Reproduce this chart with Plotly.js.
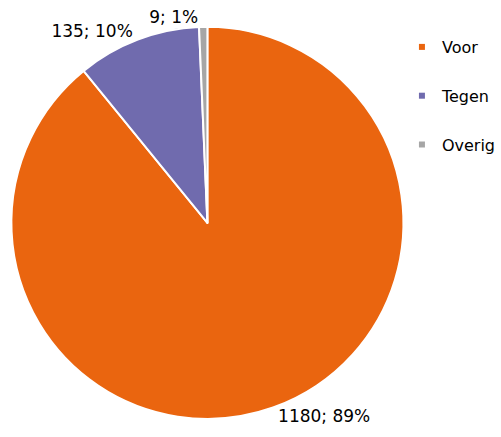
<!DOCTYPE html>
<html>
<head>
<meta charset="utf-8">
<script src="https://cdn.plot.ly/plotly-3.0.1.min.js"></script>
<style>html,body{margin:0;padding:0;background:#fff;}#chart{width:501px;height:437px;}</style>
</head>
<body>
<div id="chart"></div>
<script>
const categories = ['Voor', 'Tegen', 'Overig'];
const values = [1180, 135, 9];
const colors = ['#EA650F', '#706BAE', '#A6A6A6'];

const labelTemplate = '%{value}; %{percent:.0%}';
const pieDomain = {x: [0.023, 0.815], y: [0.036, 0.944]};
const labelFont = {family: 'DejaVu Sans', size: 17, color: '#000000'};

// main pie: slices + labels of the two large slices
const pie = {
  type: 'pie',
  labels: categories,
  values: values,
  sort: false,
  direction: 'clockwise',
  rotation: 0,
  marker: {colors: colors, line: {color: '#ffffff', width: 2}},
  texttemplate: labelTemplate,
  textposition: ['outside', 'outside', 'none'],
  outsidetextfont: labelFont,
  domain: pieDomain,
  showlegend: false,
  automargin: false,
  hoverinfo: 'label+value+percent'
};

// same pie, transparent, only carrying the label of the small slice
const pieSmallLabel = {
  type: 'pie',
  labels: categories,
  values: values,
  sort: false,
  direction: 'clockwise',
  rotation: 0,
  marker: {colors: ['rgba(0,0,0,0)', 'rgba(0,0,0,0)', 'rgba(0,0,0,0)'], line: {width: 0}},
  texttemplate: labelTemplate,
  textposition: ['none', 'none', 'outside'],
  outsidetextfont: labelFont,
  domain: pieDomain,
  showlegend: false,
  automargin: false,
  hoverinfo: 'skip'
};

const legendTraces = categories.map((c, i) => ({
  type: 'scatter',
  mode: 'markers',
  x: [null], y: [null],
  name: c,
  legendgroup: c,
  marker: {symbol: 'square', size: 6, color: colors[i]},
  showlegend: true,
  hoverinfo: 'skip'
}));

const layout = {
  width: 501, height: 437,
  margin: {l: 0, r: 0, t: 0, b: 0},
  paper_bgcolor: '#ffffff',
  plot_bgcolor: '#ffffff',
  font: {family: 'DejaVu Sans', size: 16, color: '#000000'},
  xaxis: {visible: false},
  yaxis: {visible: false},
  showlegend: true,
  legend: {
    x: 0.812, xanchor: 'left',
    y: 1 - 30/437, yanchor: 'top',
    font: {family: 'DejaVu Sans', size: 16, color: '#000000'},
    tracegroupgap: 25,
    bgcolor: 'rgba(0,0,0,0)',
    borderwidth: 0
  }
};

Plotly.newPlot('chart', [pie, pieSmallLabel].concat(legendTraces), layout, {displayModeBar: false, staticPlot: true});
</script>
</body>
</html>
